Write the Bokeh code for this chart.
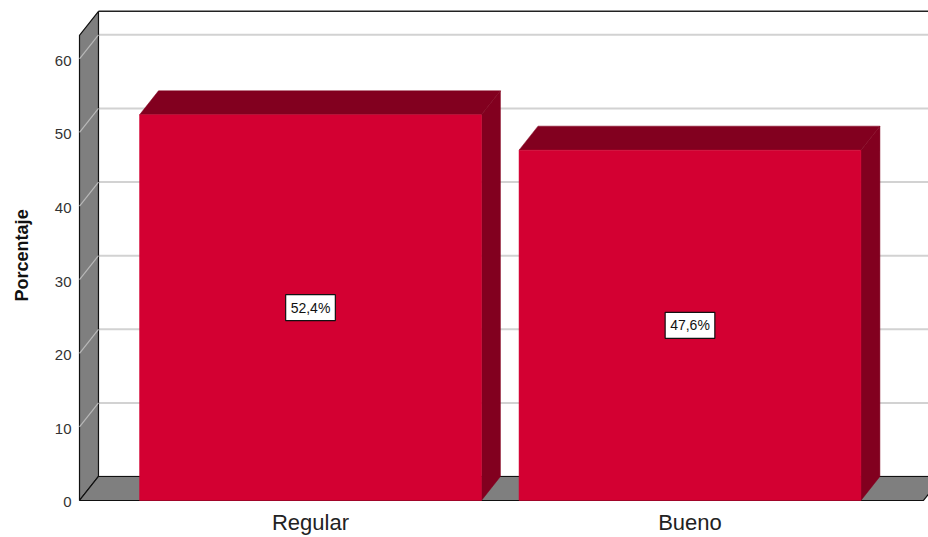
from bokeh.plotting import figure
from bokeh.models import Range1d, ColumnDataSource
from bokeh.embed import file_html
from bokeh.resources import INLINE
from bokeh.core.properties import value

# ---- data ----
categories = ["Regular", "Bueno"]
percentages = [52.4, 47.6]
bar_labels = ["52,4%", "47,6%"]
y_ticks = [0, 10, 20, 30, 40, 50, 60]
y_tick_labels = ["0", "10", "20", "30", "40", "50", "60"]
y_title = "Porcentaje"

# ---- geometry (slot units on x, percent on y) ----
Y_TOP = 63.2
DX = 0.050         # depth offset in x
DY = 3.26          # depth offset in y
BAR_W = 0.901
WALL_X = -0.1087
FLOOR_END = 2.1153
RIGHT_END = 2.4

FONT = value("Liberation Sans")
FRONT = "#D30032"
DARK = "#82001F"
WALL = "#7F7F7F"
GRID = "#D2D2D2"

p = figure(width=928, height=537, output_backend="svg", toolbar_location=None,
           x_range=Range1d(-0.3169, 2.1285), y_range=Range1d(-5.03, 67.93),
           min_border=0, outline_line_color=None)
p.axis.visible = False
p.grid.visible = False
p.background_fill_color = "white"

# back wall gridlines
p.multi_line(xs=[[WALL_X + DX, RIGHT_END] for t in y_ticks],
             ys=[[t + DY, t + DY] for t in y_ticks],
             line_color=GRID, line_width=2)
# back wall top edge
p.line([WALL_X + DX, RIGHT_END], [Y_TOP + DY, Y_TOP + DY], line_color="#222222", line_width=1.5)

# left wall
p.patch([WALL_X, WALL_X, WALL_X + DX, WALL_X + DX],
        [0, Y_TOP, Y_TOP + DY, DY],
        fill_color=WALL, line_color="#111111", line_width=1.2)
# wall diagonal gridlines
p.multi_line(xs=[[WALL_X, WALL_X + DX] for t in y_ticks[1:]],
             ys=[[t, t + DY] for t in y_ticks[1:]],
             line_color="#B8B8B8", line_width=1.2)

# floor
p.patch([WALL_X, FLOOR_END, FLOOR_END + DX, WALL_X + DX],
        [0, 0, DY, DY],
        fill_color=WALL, line_color="#111111", line_width=1.2)

# bars
centers = [i + 0.5 for i in range(len(categories))]
front_xs, front_ys, top_xs, top_ys, side_xs, side_ys = [], [], [], [], [], []
for c, v in zip(centers, percentages):
    l, r = c - BAR_W / 2, c + BAR_W / 2
    front_xs.append([l, r, r, l]); front_ys.append([0, 0, v, v])
    top_xs.append([l, r, r + DX, l + DX]); top_ys.append([v, v, v + DY, v + DY])
    side_xs.append([r, r + DX, r + DX, r]); side_ys.append([0, DY, v + DY, v])

p.patches(side_xs, side_ys, fill_color=DARK, line_color=DARK, line_width=0.5)
p.patches(top_xs, top_ys, fill_color=DARK, line_color=DARK, line_width=0.5)
p.patches(front_xs, front_ys, fill_color=FRONT, line_color=FRONT, line_width=0.5)

# value labels
lab_src = ColumnDataSource(dict(x=centers, y=[v / 2 for v in percentages], t=bar_labels))
p.text("x", "y", text="t", source=lab_src, text_font=FONT, text_font_size="14px",
       text_color="#111111", text_align="center", text_baseline="middle",
       background_fill_color="white", border_line_color="#111111", border_line_width=1.2,
       padding=5)

# y tick labels
p.text(x=[-0.1298] * len(y_ticks), y=y_ticks, text=y_tick_labels, text_font=FONT,
       text_font_size="15px", text_color="#333333", text_align="right",
       text_baseline="middle", y_offset=2)

# x category labels
p.text(x=centers, y=[-3.0] * len(categories), text=categories, text_font=FONT,
       text_font_size="22px", text_color="#222222", text_align="center",
       text_baseline="middle")

# y title
p.text(x=[-0.2615], y=[33.3], text=[y_title], text_font=FONT, text_font_size="18px",
       text_font_style="bold", text_color="#111111", text_align="center",
       text_baseline="middle", angle=1.5708)

open("out.html", "w").write(file_html(p, INLINE))
